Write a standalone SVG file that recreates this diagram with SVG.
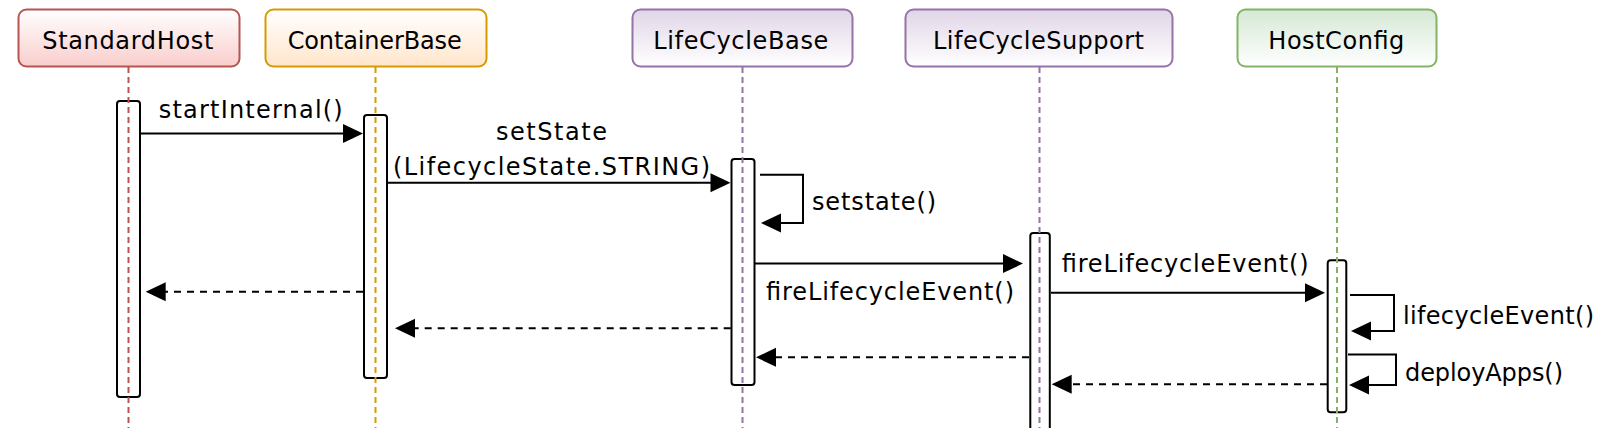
<svg xmlns="http://www.w3.org/2000/svg" width="1602" height="428" viewBox="0 0 1602 428">
<style>
  .t { font-family: "DejaVu Sans", "Noto Sans", sans-serif; font-size: 24px; fill: #000; }
  .hdr { stroke-width: 2; }
  .bar { fill: #ffffff; stroke: #000; stroke-width: 2; }
  .life { stroke-width: 2; stroke-dasharray: 6 4; fill: none; }
  .msg { stroke: #000; stroke-width: 2; fill: none; }
  .ret { stroke: #000; stroke-width: 2; fill: none; stroke-dasharray: 7 6; }
</style>
<defs>
  <linearGradient id="gRed" x1="0" y1="0" x2="0" y2="1"><stop offset="0" stop-color="#ffffff"/><stop offset="1" stop-color="#f8cecc"/></linearGradient>
  <linearGradient id="gOrange" x1="0" y1="0" x2="0" y2="1"><stop offset="0" stop-color="#ffffff"/><stop offset="1" stop-color="#ffe6cc"/></linearGradient>
  <linearGradient id="gPurple" x1="0" y1="0" x2="0" y2="1"><stop offset="0" stop-color="#e1d5e7"/><stop offset="1" stop-color="#ffffff"/></linearGradient>
  <linearGradient id="gGreen" x1="0" y1="0" x2="0" y2="1"><stop offset="0" stop-color="#d5e8d4"/><stop offset="1" stop-color="#ffffff"/></linearGradient>
  <marker id="ah" markerUnits="userSpaceOnUse" markerWidth="20" markerHeight="19" refX="2" refY="9.5" orient="auto" overflow="visible">
    <path d="M0,0 L20,9.5 L0,19 Z" fill="#000"/>
  </marker>
</defs>

<g id="StandardHost">
  <rect class="hdr" x="18.5" y="9.5" width="221" height="57" rx="8" fill="url(#gRed)" stroke="#b85450"/>
  <text class="t" x="42.3" y="48.5" textLength="171" lengthAdjust="spacing">StandardHost</text>
  <rect class="bar" x="117" y="101" width="23" height="296" rx="3"/>
  <line class="life" x1="128.5" y1="67" x2="128.5" y2="428" stroke="#b85450"/>
</g>

<g id="ContainerBase">
  <rect class="hdr" x="265.5" y="9.5" width="221" height="57" rx="8" fill="url(#gOrange)" stroke="#d79b00"/>
  <text class="t" x="287.7" y="48.5" textLength="174" lengthAdjust="spacing">ContainerBase</text>
  <rect class="bar" x="364" y="115" width="23" height="263" rx="3"/>
  <line class="life" x1="375.5" y1="67" x2="375.5" y2="428" stroke="#d79b00"/>
</g>

<g id="LifeCycleBase">
  <rect class="hdr" x="632.5" y="9.5" width="220" height="57" rx="8" fill="url(#gPurple)" stroke="#9673a6"/>
  <text class="t" x="653.3" y="48.5" textLength="175" lengthAdjust="spacing">LifeCycleBase</text>
  <rect class="bar" x="731.5" y="159" width="23" height="226" rx="3"/>
  <line class="life" x1="742.5" y1="67" x2="742.5" y2="428" stroke="#9673a6"/>
</g>

<g id="LifeCycleSupport">
  <rect class="hdr" x="905.5" y="9.5" width="267" height="57" rx="8" fill="url(#gPurple)" stroke="#9673a6"/>
  <text class="t" x="933" y="48.5" textLength="211" lengthAdjust="spacing">LifeCycleSupport</text>
  <rect class="bar" x="1030.3" y="233" width="19.5" height="220" rx="3"/>
  <line class="life" x1="1039.5" y1="67" x2="1039.5" y2="428" stroke="#9673a6"/>
</g>

<g id="HostConfig">
  <rect class="hdr" x="1237.5" y="9.5" width="199" height="57" rx="8" fill="url(#gGreen)" stroke="#82b366"/>
  <text class="t" x="1268.3" y="48.5" textLength="136" lengthAdjust="spacing">HostConfig</text>
  <rect class="bar" x="1327.7" y="260.3" width="18.6" height="152" rx="3"/>
  <line class="life" x1="1337" y1="67" x2="1337" y2="428" stroke="#82b366"/>
</g>

<g id="connectors">
  <path class="msg" d="M141,133.5 H345" marker-end="url(#ah)"/>
  <path class="msg" d="M388,182.7 H712.5" marker-end="url(#ah)"/>
  <path class="msg" d="M760,174.7 H803 V223 H779" marker-end="url(#ah)"/>
  <path class="msg" d="M755,263.5 H1005" marker-end="url(#ah)"/>
  <path class="msg" d="M1051,292.7 H1307" marker-end="url(#ah)"/>
  <path class="msg" d="M1350,295 H1394 V331 H1369" marker-end="url(#ah)"/>
  <path class="msg" d="M1348,354.5 H1396 V385 H1367" marker-end="url(#ah)"/>
  <path class="ret" d="M1327,384.3 H1069.7" marker-end="url(#ah)"/>
  <path class="ret" d="M1029,357.3 H774" marker-end="url(#ah)"/>
  <path class="ret" d="M730.7,328.3 H413" marker-end="url(#ah)"/>
  <path class="ret" d="M363,291.7 H163.7" marker-end="url(#ah)"/>

  <text class="t" x="158.7" y="118" textLength="184" lengthAdjust="spacing">startInternal()</text>
  <text class="t" x="496" y="139.5" textLength="111" lengthAdjust="spacing">setState</text>
  <text class="t" x="393" y="175" textLength="317" lengthAdjust="spacing">(LifecycleState.STRING)</text>
  <text class="t" x="812" y="210" textLength="124" lengthAdjust="spacing">setstate()</text>
  <text class="t" x="766" y="300" textLength="248" lengthAdjust="spacing">fireLifecycleEvent()</text>
  <text class="t" x="1061.7" y="271.7" textLength="247" lengthAdjust="spacing">fireLifecycleEvent()</text>
  <text class="t" x="1403" y="324" textLength="191" lengthAdjust="spacing">lifecycleEvent()</text>
  <text class="t" x="1405" y="381" textLength="158" lengthAdjust="spacing">deployApps()</text>
</g>
</svg>
